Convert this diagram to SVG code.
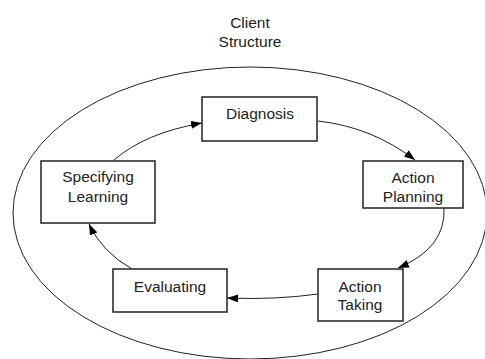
<svg xmlns="http://www.w3.org/2000/svg" width="485" height="359" viewBox="0 0 485 359">
<style>
.box{fill:#fff;stroke:#222;stroke-width:1.5}
.t{font-family:"Liberation Sans",Arial,sans-serif;font-size:15.5px;fill:#222;text-anchor:middle}
.c{fill:none;stroke:#222;stroke-width:1}
</style>
<defs>
<marker id="ah" viewBox="0 0 11 8" refX="11" refY="4" markerWidth="11" markerHeight="8" markerUnits="userSpaceOnUse" orient="auto">
<path d="M0,0 L11,4 L0,8 Z" fill="#000"/>
</marker>
</defs>
<rect width="485" height="359" fill="#fff"/>
<g id="client">
<ellipse cx="250" cy="213" rx="237" ry="146" class="c"/>
<text class="t" x="250" y="28">Client</text>
<text class="t" x="250" y="47">Structure</text>
</g>
<g id="connectors">
<path class="c" d="M114,160 Q145,133 202,123" marker-end="url(#ah)"/>
<path class="c" d="M318,121 Q372,127 415,160" marker-end="url(#ah)"/>
<path class="c" d="M444,208 Q446,248 398,268" marker-end="url(#ah)"/>
<path class="c" d="M318,294 Q275,300 227,298" marker-end="url(#ah)"/>
<path class="c" d="M132,269 Q102,252 89,224" marker-end="url(#ah)"/>
</g>
<g id="diagnosis">
<rect class="box" x="202" y="97" width="115" height="44"/>
<text class="t" x="260" y="119">Diagnosis</text>
</g>
<g id="action-planning">
<rect class="box" x="363" y="161" width="100" height="47"/>
<text class="t" x="413" y="183">Action</text>
<text class="t" x="413" y="202">Planning</text>
</g>
<g id="action-taking">
<rect class="box" x="318" y="269" width="85" height="52"/>
<text class="t" x="360" y="292">Action</text>
<text class="t" x="360" y="310">Taking</text>
</g>
<g id="evaluating">
<rect class="box" x="113" y="269" width="114" height="43"/>
<text class="t" x="170" y="292">Evaluating</text>
</g>
<g id="specifying-learning">
<rect class="box" x="41" y="161" width="114" height="62"/>
<text class="t" x="98" y="182">Specifying</text>
<text class="t" x="98" y="202">Learning</text>
</g>
</svg>
